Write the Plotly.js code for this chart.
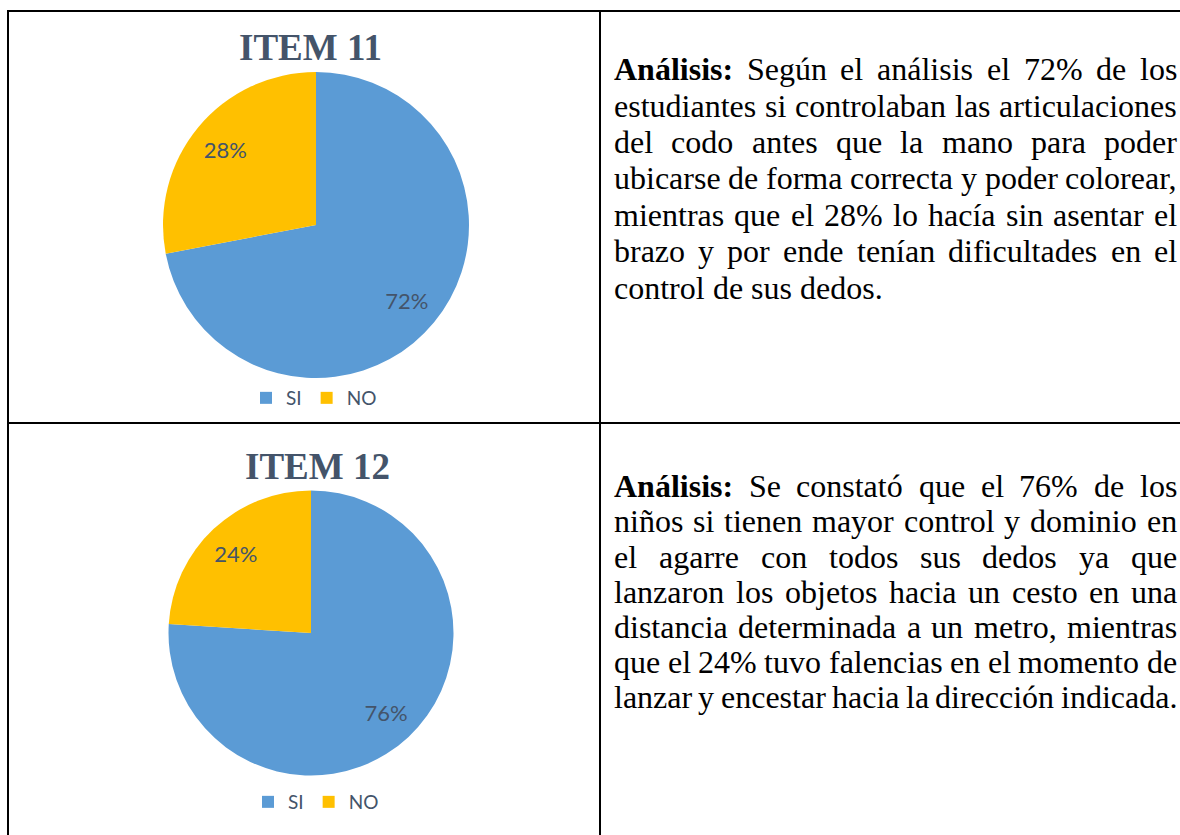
<!DOCTYPE html>
<html>
<head>
<meta charset="utf-8">
<script src="https://cdn.plot.ly/plotly-3.0.1.min.js"></script>
<style>
html,body{margin:0;padding:0;background:#ffffff;}
#chart{width:1180px;height:835px;}
</style>
</head>
<body>
<div id="chart"></div>
<script>
// ---------------- data ----------------
const categories = ['SI', 'NO'];
const item11Values = [72, 28];
const item12Values = [76, 24];
const chartTitles = ['ITEM 11', 'ITEM 12'];
const boldLead = 'Análisis:';
const analysis11Lines = [
  'Análisis: Según el análisis el 72% de los',
  'estudiantes si controlaban las articulaciones',
  'del codo antes que la mano para poder',
  'ubicarse de forma correcta y poder colorear,',
  'mientras que el 28% lo hacía sin asentar el',
  'brazo y por ende tenían dificultades en el',
  'control de sus dedos.'
];
const analysis12Lines = [
  'Análisis: Se constató que el 76% de los',
  'niños si tienen mayor control y dominio en',
  'el agarre con todos sus dedos ya que',
  'lanzaron los objetos hacia un cesto en una',
  'distancia determinada a un metro, mientras',
  'que el 24% tuvo falencias en el momento de',
  'lanzar y encestar hacia la dirección indicada.'
];

// ---------------- layout helpers ----------------
const W = 1180, H = 835;
const px = x => x / W;
const py = y => 1 - y / H;
const sliceColors = ['#5B9BD5', '#FFC000'];
const clear = ['rgba(0,0,0,0)', 'rgba(0,0,0,0)'];
const labelFont = {family: 'Lato', size: 22, color: '#44546A'};
const bodyFont = {family: 'Liberation Serif', size: 32, color: '#000000'};

function pieTraces(values, dom, legendId, group) {
  const domain = {x: [px(dom.cx - dom.r), px(dom.cx + dom.r)], y: [py(dom.cy + dom.r), py(dom.cy - dom.r)]};
  return [
    {
      type: 'pie', labels: categories, values: values, domain: domain,
      sort: false, direction: 'clockwise', rotation: 0,
      marker: {colors: sliceColors, line: {width: 0}},
      textinfo: 'none', hoverinfo: 'label+percent',
      legend: legendId, legendgroup: group, showlegend: true
    },
    {
      type: 'pie', labels: categories, values: values, domain: domain,
      sort: false, direction: 'clockwise', rotation: 0, hole: 0.54,
      marker: {colors: clear, line: {width: 0}},
      textinfo: 'percent', textposition: 'inside', insidetextorientation: 'horizontal',
      textfont: labelFont, hoverinfo: 'skip', showlegend: false,
      legend: legendId, legendgroup: group + 'txt'
    }
  ];
}

const ctx = document.createElement('canvas').getContext('2d');
function measure(word, bold) {
  ctx.font = (bold ? 'bold ' : '') + '32px "Liberation Serif"';
  return ctx.measureText(word).width;
}
function paragraph(lines, left, right, firstBaseline, pitch) {
  const anns = [];
  const spaceW = measure(' ', false);
  lines.forEach((line, i) => {
    const words = line.split(' ');
    const bolds = words.map((w, j) => i === 0 && j === 0 && w === boldLead);
    const widths = words.map((w, j) => measure(w, bolds[j]));
    const total = widths.reduce((a, b) => a + b, 0);
    const isLast = i === lines.length - 1;
    let gap = (right - left - total) / (words.length - 1);
    if (isLast && gap > spaceW) gap = spaceW;
    let x = left;
    const yc = firstBaseline + i * pitch - 10.8;
    words.forEach((w, j) => {
      anns.push({
        xref: 'paper', yref: 'paper', x: px(x), y: py(yc),
        xanchor: 'left', yanchor: 'middle', showarrow: false,
        text: bolds[j] ? '<b>' + w + '</b>' : w,
        font: bodyFont, borderpad: 0
      });
      x += widths[j] + gap;
    });
  });
  return anns;
}

const data = [
  ...pieTraces(item11Values, {cx: 316, cy: 225, r: 153}, 'legend', 'item11'),
  ...pieTraces(item12Values, {cx: 311, cy: 633, r: 142.5}, 'legend2', 'item12')
];

const titleFont = {family: 'Liberation Serif', size: 37, color: '#44546A'};
const annotations = [
  {xref: 'paper', yref: 'paper', x: px(310), y: py(47), xanchor: 'center', yanchor: 'middle',
   showarrow: false, text: '<b>' + chartTitles[0] + '</b>', font: titleFont},
  {xref: 'paper', yref: 'paper', x: px(317), y: py(466), xanchor: 'center', yanchor: 'middle',
   showarrow: false, text: '<b>' + chartTitles[1] + '</b>', font: titleFont},
  ...paragraph(analysis11Lines, 613, 1176, 80, 36.4),
  ...paragraph(analysis12Lines, 613, 1176, 497, 35.2)
];

const lineStyle = {color: '#000000', width: 2};
const shapes = [
  {type: 'line', xref: 'paper', yref: 'paper', x0: px(7), y0: py(11), x1: px(1180), y1: py(11), line: lineStyle},
  {type: 'line', xref: 'paper', yref: 'paper', x0: px(8), y0: py(10), x1: px(8), y1: py(835), line: lineStyle},
  {type: 'line', xref: 'paper', yref: 'paper', x0: px(600), y0: py(10), x1: px(600), y1: py(835), line: lineStyle},
  {type: 'line', xref: 'paper', yref: 'paper', x0: px(7), y0: py(423), x1: px(1180), y1: py(423), line: lineStyle}
];

const legendBase = {
  orientation: 'h', xanchor: 'center', yanchor: 'middle',
  font: {family: 'Lato', size: 19, color: '#44546A'},
  bgcolor: 'rgba(0,0,0,0)', traceorder: 'normal', itemwidth: 30
};

const layout = {
  width: W, height: H,
  margin: {l: 0, r: 0, t: 0, b: 0, pad: 0},
  paper_bgcolor: '#ffffff', plot_bgcolor: '#ffffff',
  showlegend: true,
  legend: Object.assign({}, legendBase, {x: px(314), y: py(398)}),
  legend2: Object.assign({}, legendBase, {x: px(316), y: py(802)}),
  annotations: annotations,
  shapes: shapes
};

Plotly.newPlot('chart', data, layout, {displayModeBar: false, responsive: false});
</script>
</body>
</html>
